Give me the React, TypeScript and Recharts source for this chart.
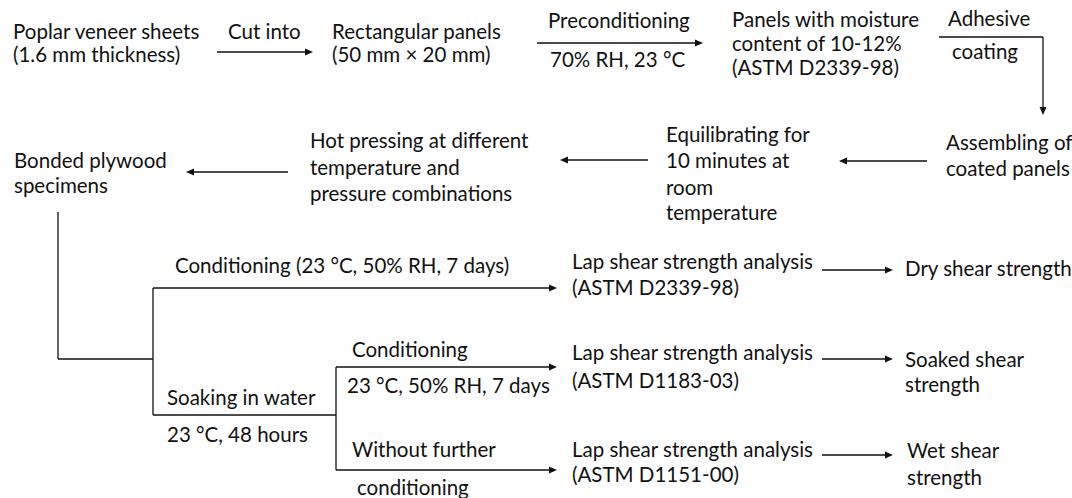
import React from 'react';
import { ScatterChart, Scatter, XAxis, YAxis, ReferenceLine } from 'recharts';

// text lines of the flow diagram: left edge and baseline in diagram units (px of the 1072x498 canvas)
const LABELS = [
  { text: 'Poplar veneer sheets', x: 13, y: 39 },
  { text: '(1.6 mm thickness)', x: 13, y: 62 },
  { text: 'Cut into', x: 228, y: 39 },
  { text: 'Rectangular panels', x: 332, y: 39 },
  { text: '(50 mm × 20 mm)', x: 332, y: 62 },
  { text: 'Preconditioning', x: 548, y: 28 },
  { text: '70% RH, 23 °C', x: 550, y: 67 },
  { text: 'Panels with moisture', x: 732, y: 27 },
  { text: 'content of 10-12%', x: 732, y: 51 },
  { text: '(ASTM D2339-98)', x: 732, y: 75 },
  { text: 'Adhesive', x: 948, y: 26 },
  { text: 'coating', x: 952, y: 59 },
  { text: 'Assembling of', x: 946, y: 150 },
  { text: 'coated panels', x: 946, y: 176 },
  { text: 'Equilibrating for', x: 666, y: 142 },
  { text: '10 minutes at', x: 666, y: 168 },
  { text: 'room', x: 666, y: 195 },
  { text: 'temperature', x: 666, y: 220 },
  { text: 'Hot pressing at different', x: 310, y: 148 },
  { text: 'temperature and', x: 310, y: 175 },
  { text: 'pressure combinations', x: 310, y: 201 },
  { text: 'Bonded plywood', x: 14, y: 168 },
  { text: 'specimens', x: 14, y: 193 },
  { text: 'Conditioning (23 °C, 50% RH, 7 days)', x: 175, y: 273 },
  { text: 'Lap shear strength analysis', x: 572, y: 269 },
  { text: '(ASTM D2339-98)', x: 572, y: 295 },
  { text: 'Dry shear strength', x: 905, y: 276 },
  { text: 'Conditioning', x: 352, y: 357 },
  { text: '23 °C, 50% RH, 7 days', x: 347, y: 393 },
  { text: 'Lap shear strength analysis', x: 572, y: 360 },
  { text: '(ASTM D1183-03)', x: 572, y: 388 },
  { text: 'Soaked shear', x: 905, y: 367 },
  { text: 'strength', x: 905, y: 392 },
  { text: 'Soaking in water', x: 167, y: 405 },
  { text: '23 °C, 48 hours', x: 167, y: 442 },
  { text: 'Without further', x: 352, y: 457 },
  { text: 'conditioning', x: 357, y: 495 },
  { text: 'Lap shear strength analysis', x: 572, y: 457 },
  { text: '(ASTM D1151-00)', x: 572, y: 482 },
  { text: 'Wet shear', x: 907, y: 458 },
  { text: 'strength', x: 907, y: 485 },
];

// plain connector segments (no arrow head)
const CONNECTORS = [
  { x1: 939, y1: 37, x2: 1043, y2: 37 },
  { x1: 58, y1: 212, x2: 58, y2: 359 },
  { x1: 58, y1: 359, x2: 153, y2: 359 },
  { x1: 153, y1: 288, x2: 153, y2: 415 },
  { x1: 153, y1: 415, x2: 336, y2: 415 },
  { x1: 336, y1: 367, x2: 336, y2: 470 },
];

// arrows, head at (x2, y2)
const ARROWS = [
  { x1: 217, y1: 52, x2: 313, y2: 52 },
  { x1: 537, y1: 43, x2: 703, y2: 43 },
  { x1: 1043, y1: 37, x2: 1043, y2: 115 },
  { x1: 927, y1: 161, x2: 839, y2: 161 },
  { x1: 648, y1: 160, x2: 560, y2: 160 },
  { x1: 288, y1: 172, x2: 186, y2: 172 },
  { x1: 153, y1: 288, x2: 557, y2: 288 },
  { x1: 336, y1: 367, x2: 557, y2: 367 },
  { x1: 336, y1: 470, x2: 557, y2: 470 },
  { x1: 822, y1: 270, x2: 893, y2: 270 },
  { x1: 822, y1: 359, x2: 893, y2: 359 },
  { x1: 822, y1: 455, x2: 893, y2: 455 },
];

const W = 1072;
const H = 498;
const INK = '#111';
const FONT = 'Lato, "Open Sans", sans-serif';

const LabelShape = (props: any) => {
  const { cx, cy, payload } = props;
  return (
    <text x={cx} y={cy} fontFamily={FONT} fontSize={20.5} fill={INK}>
      {payload.text}
    </text>
  );
};

const arrowShape = (withHead: boolean) => (p: any) => {
  const { x1, y1, x2, y2 } = p;
  const dx = x2 - x1;
  const dy = y2 - y1;
  const len = Math.sqrt(dx * dx + dy * dy) || 1;
  const ux = dx / len;
  const uy = dy / len;
  const hl = 8;
  const hw = 3.5;
  const bx = x2 - ux * hl;
  const by = y2 - uy * hl;
  return (
    <g>
      <line x1={x1} y1={y1} x2={withHead ? bx + ux : x2} y2={withHead ? by + uy : y2} stroke={INK} strokeWidth={1.3} />
      {withHead && (
        <polygon
          points={`${x2},${y2} ${bx - uy * hw},${by + ux * hw} ${bx + uy * hw},${by - ux * hw}`}
          fill={INK}
        />
      )}
    </g>
  );
};

export default function App() {
  return (
    <div style={{ width: W, height: H, background: '#fff' }}>
      <style>{'body{margin:0;}'}</style>
      <ScatterChart width={W} height={H} margin={{ top: 0, right: 0, bottom: 0, left: 0 }}>
        <XAxis type="number" dataKey="x" domain={[0, W]} hide allowDataOverflow />
        <YAxis type="number" dataKey="y" domain={[0, H]} reversed hide allowDataOverflow />
        {CONNECTORS.map((s, i) => (
          <ReferenceLine
            key={`c-${i}`}
            segment={[{ x: s.x1, y: s.y1 }, { x: s.x2, y: s.y2 }]}
            ifOverflow="visible"
            shape={arrowShape(false)}
          />
        ))}
        {ARROWS.map((s, i) => (
          <ReferenceLine
            key={`a-${i}`}
            segment={[{ x: s.x1, y: s.y1 }, { x: s.x2, y: s.y2 }]}
            ifOverflow="visible"
            shape={arrowShape(true)}
          />
        ))}
        <Scatter data={LABELS} shape={LabelShape} isAnimationActive={false} />
      </ScatterChart>
    </div>
  );
}
